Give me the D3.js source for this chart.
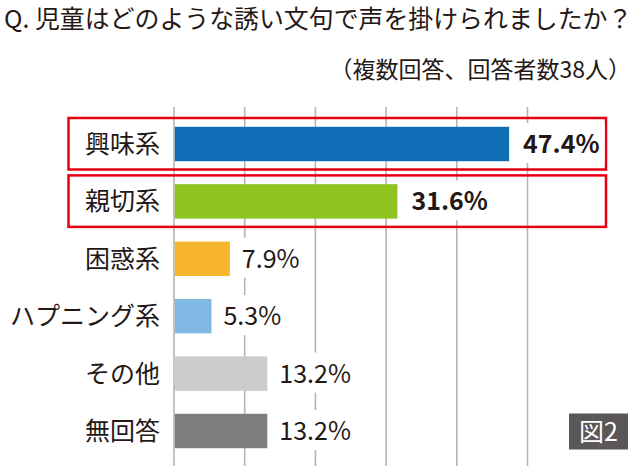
<!DOCTYPE html>
<html><head><meta charset="utf-8">
<script src="https://cdn.jsdelivr.net/npm/d3@7"></script>
<style>
html,body{margin:0;padding:0;background:#fff;}
svg{display:block;}
text{font-family:"Noto Sans CJK JP","Noto Sans",sans-serif;fill:#231815;}
</style></head>
<body>
<svg id="chart" width="634" height="468"></svg>
<script>
const titleText = "Q. 児童はどのような誘い文句で声を掛けられましたか？";
const subtitleText = "（複数回答、回答者数38人）";
const categories = ["興味系", "親切系", "困惑系", "ハプニング系", "その他", "無回答"];
const values = [47.4, 31.6, 7.9, 5.3, 13.2, 13.2];
const valueLabels = ["47.4%", "31.6%", "7.9%", "5.3%", "13.2%", "13.2%"];
const colors = ["#106eb6", "#8fc31f", "#f8b62d", "#7fb9e3", "#cccccc", "#7d7d7d"];
const highlighted = ["興味系", "親切系"];
const gridTicks = [0, 10, 20, 30, 40, 50];
const badgeText = "図2";

const svg = d3.select("#chart");
const x = d3.scaleLinear().domain([0, 50]).range([174, 527.5]);
const y = d3.scaleBand().domain(categories).range([115.3, 459.7]).paddingInner(0.4).paddingOuter(0.2);

// title
svg.append("text").attr("x", 4).attr("y", 28).attr("font-size", 24.9).text(titleText);
svg.append("text").attr("x", 631).attr("y", 78).attr("font-size", 23).attr("text-anchor", "end").text(subtitleText);

// gridlines
svg.append("g").selectAll("line").data(gridTicks).join("line")
  .attr("x1", d => x(d)).attr("x2", d => x(d))
  .attr("y1", 107).attr("y2", 466)
  .attr("stroke", "#b5b5b5").attr("stroke-width", 1.6);

// highlight boxes
svg.append("g").selectAll("rect").data(highlighted).join("rect")
  .attr("x", 68.5).attr("width", 537.5)
  .attr("y", d => y(d) + y.bandwidth()/2 - 26).attr("height", 51.5)
  .attr("fill", "none").attr("stroke", "#e60012").attr("stroke-width", 2.5);

// bars
svg.append("g").selectAll("rect").data(values).join("rect")
  .attr("x", x(0) + 0.8)
  .attr("y", (d, i) => y(categories[i]))
  .attr("width", d => x(d) - x(0) - 0.8)
  .attr("height", y.bandwidth())
  .attr("fill", (d, i) => colors[i]);

// category labels
svg.append("g").selectAll("text").data(categories).join("text")
  .attr("x", 160).attr("y", d => y(d) + y.bandwidth()/2)
  .attr("dy", "0.36em").attr("text-anchor", "end").attr("font-size", 25)
  .text(d => d);

// value labels with white backing
const vg = svg.append("g");
values.forEach((v, i) => {
  const bold = i < 2;
  const cy = y(categories[i]) + y.bandwidth()/2;
  const tx = x(v) + (bold ? 14 : 12);
  const bg = vg.append("rect").attr("fill", "#fff");
  const t = vg.append("text").attr("x", tx).attr("y", cy).attr("dy", "0.36em")
    .attr("font-size", 25).attr("font-weight", bold ? 700 : 400)
    .attr("font-family", "'Noto Sans',sans-serif")
    .text(valueLabels[i]);
  const bb = t.node().getBBox();
  bg.attr("x", bb.x - 5).attr("width", bb.width + 10).attr("y", cy - 21).attr("height", 40);
});

// badge
const bx = 569, bw = 59;
svg.append("rect").attr("x", bx).attr("y", 413.5).attr("width", bw).attr("height", 36).attr("fill", "#595757");
svg.append("text").attr("x", bx + bw/2).attr("y", 431.5).attr("dy", "0.36em").attr("text-anchor", "middle")
  .attr("font-size", 25).style("fill", "#fff").text(badgeText);
</script>
</body></html>
